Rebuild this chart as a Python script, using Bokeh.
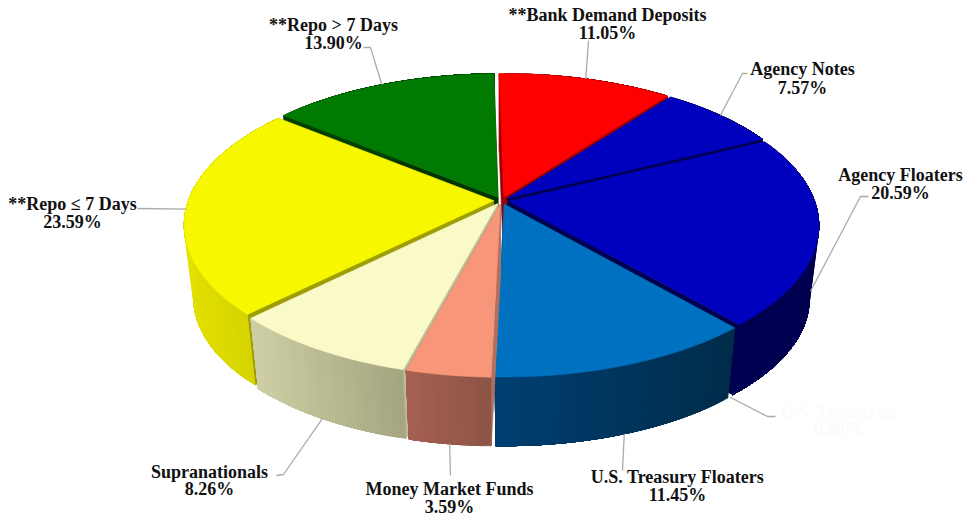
import math
from bokeh.plotting import figure
from bokeh.models import ColumnDataSource, Range1d
from bokeh.core.properties import value
from bokeh.embed import file_html
from bokeh.resources import INLINE

# ---- data ----
names = ["**Bank Demand Deposits", "Agency Notes", "Agency Floaters", "U.S. Treasuries",
         "U.S. Treasury Floaters", "Money Market Funds", "Supranationals",
         "**Repo \u2264 7 Days", "**Repo > 7 Days"]
values = [11.05, 7.57, 20.59, 0.00, 11.45, 3.59, 8.26, 23.59, 13.90]

# ---- styles ----
top_colors = ["#FF0000", "#0000BF", "#0000BF", "#FFFFFF", "#0070C0", "#F79679", "#FAFAC8", "#F7F700", "#007A00"]
radial_colors = ["#9E0000", "#000050", "#000050", "#FFFFFF", "#003050", "#B07060", "#BCBC96", "#9E9E00", "#003500"]
wall_left = ["#A00000", "#000050", "#000050", "#FFFFFF", "#003F72", "#A66052", "#CFCFA4", "#E4E000", "#004000"]
wall_right = ["#A00000", "#000050", "#000050", "#FFFFFF", "#002C4A", "#8C5545", "#A4A480", "#CECE00", "#004000"]
label_colors = ["#111111"] * 3 + ["#FBFBFB"] + ["#111111"] * 5

# label centre x, first line y, second line y
label_pos = [(607, 14, 32), (802, 68, 87), (900, 174, 192), (838, 411, 429), (677, 476, 494),
             (449, 488, 506), (209, 471, 488), (72, 203, 221), (333, 24, 42)]
# elbow points from the slice to the label
elbows = [[(588, 40)], [(742, 73), (747, 73)], [(860, 196), (868, 196)], [(767, 416), (775, 416)],
          [(622, 470)], [(450, 475)], [(283, 474), (276, 475)], [(137, 208)], [(370, 47), (363, 47)]]
anchor_frac = [0, 0, 0.85, 1, 1, 1, 1, 0, 0]

# ---- 3D pie geometry ----
CX, CY = 501, 200
A, B, K = 305, 144, 0.16
EXPLODE = 0.026
ROT = -1.0
WARP_R = math.radians(2.4)
WARP_L = math.radians(1.5)
SHRINK, CY2 = 0.97, 274


def warp(theta):
    s = math.sin(theta)
    if s >= 0:
        return theta - WARP_R * s
    return theta + WARP_L * max(0.0, math.sin(2 * theta))


def top_pt(theta, mid):
    th = warp(theta)
    X = math.sin(th) + EXPLODE * math.sin(mid)
    Y = math.cos(th) + EXPLODE * math.cos(mid)
    w = 1 + K * Y
    return CX + A * X / w, CY - B * Y / w


def apex_pt(mid):
    X = EXPLODE * math.sin(mid)
    Y = EXPLODE * math.cos(mid)
    w = 1 + K * Y
    return CX + A * X / w, CY - B * Y / w


def lower(pt):
    return CX + SHRINK * (pt[0] - CX), CY2 + SHRINK * (pt[1] - CY)


def mix(c1, c2, t):
    a = [int(c1[i:i + 2], 16) for i in (1, 3, 5)]
    b = [int(c2[i:i + 2], 16) for i in (1, 3, 5)]
    return "#%02X%02X%02X" % tuple(round(x + (y - x) * t) for x, y in zip(a, b))


total = sum(values)
slices = []
acc = 0.0
for i, v in enumerate(values):
    a0 = math.radians(ROT + 360 * acc / total)
    a1 = math.radians(ROT + 360 * (acc + v) / total)
    acc += v
    slices.append((i, a0, a1, (a0 + a1) / 2))

order = sorted([s for s in slices if values[s[0]] > 0],
               key=lambda s: -abs(((math.degrees(s[3]) % 360)) - 180))

xs, ys, cols = [], [], []


def add(poly, c):
    xs.append([q[0] for q in poly])
    ys.append([q[1] for q in poly])
    cols.append(c)


for i, a0, a1, mid in order:
    apex = apex_pt(mid)
    n = max(8, int(math.degrees(a1 - a0)))
    arc = [top_pt(a0 + (a1 - a0) * j / n, mid) for j in range(n + 1)]
    # radial walls
    add([apex, arc[0], lower(arc[0]), lower(apex)], radial_colors[i])
    add([apex, arc[-1], lower(arc[-1]), lower(apex)], radial_colors[i])
    # outer wall: overlapping shaded strips, painted so that no seams show
    lo, hi = min(q[0] for q in arc), max(q[0] for q in arc)
    for j in range(n):
        t = ((arc[j][0] + arc[j + 1][0]) / 2 - lo) / max(hi - lo, 1)
        tail = arc[j:]
        add(tail + [lower(q) for q in reversed(tail)], mix(wall_left[i], wall_right[i], t))
    # top
    add([apex] + arc, top_colors[i])

p = figure(width=964, height=516, x_range=Range1d(0, 964), y_range=Range1d(516, 0),
           output_backend="svg", toolbar_location=None, min_border=0)
p.axis.visible = False
p.grid.visible = False
p.outline_line_color = None

p.patches("xs", "ys", source=ColumnDataSource(dict(xs=xs, ys=ys, c=cols)),
          fill_color="c", line_color="c", line_width=0.6)

# leader lines
lx, ly = [], []
for i, a0, a1, mid in slices:
    r = top_pt(mid, mid)
    b = lower(r)
    f = anchor_frac[i]
    start = (r[0] + (b[0] - r[0]) * f, r[1] + (b[1] - r[1]) * f)
    pts = [start] + elbows[i]
    lx.append([q[0] for q in pts])
    ly.append([q[1] for q in pts])
p.multi_line(lx, ly, line_color="#ABABAB", line_width=1.3)

# labels
pct = [f"{v:.2f}%" for v in values]
for txt, k in ((names, 1), (pct, 2)):
    p.text(x=[q[0] for q in label_pos], y=[q[k] for q in label_pos],
           text=txt, text_color=label_colors,
           text_font=value("Liberation Serif"), text_font_style="bold", text_font_size="18px",
           text_align="center", text_baseline="middle")

open("out.html", "w").write(file_html(p, INLINE))
